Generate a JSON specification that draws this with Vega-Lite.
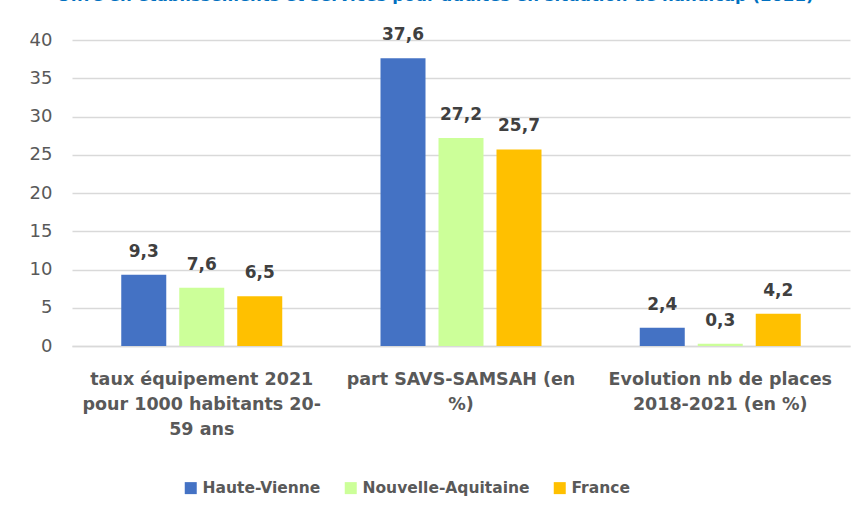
{
  "$schema": "https://vega.github.io/schema/vega-lite/v6.json",
  "width": 778,
  "height": 306,
  "autosize": {"type": "none"},
  "padding": {"left": 72, "top": 40, "right": 18, "bottom": 173},
  "background": "white",
  "title": {
    "text": "Offre en établissements et services pour adultes en situation de handicap (2021)",
    "color": "#0070C0",
    "font": "DejaVu Sans",
    "fontSize": 16.5,
    "fontWeight": "bold",
    "baseline": "alphabetic",
    "anchor": "middle",
    "offset": 9,
    "dx": -26
  },
  "data": {
    "values": [
      {"indicateur": "taux", "territoire": "Haute-Vienne", "valeur": 9.3},
      {"indicateur": "taux", "territoire": "Nouvelle-Aquitaine", "valeur": 7.6},
      {"indicateur": "taux", "territoire": "France", "valeur": 6.5},
      {"indicateur": "part", "territoire": "Haute-Vienne", "valeur": 37.6},
      {"indicateur": "part", "territoire": "Nouvelle-Aquitaine", "valeur": 27.2},
      {"indicateur": "part", "territoire": "France", "valeur": 25.7},
      {"indicateur": "evol", "territoire": "Haute-Vienne", "valeur": 2.4},
      {"indicateur": "evol", "territoire": "Nouvelle-Aquitaine", "valeur": 0.3},
      {"indicateur": "evol", "territoire": "France", "valeur": 4.2}
    ]
  },
  "encoding": {
    "x": {
      "field": "indicateur",
      "type": "nominal",
      "sort": null,
      "scale": {"paddingInner": 0.379, "paddingOuter": 0.19},
      "axis": {
        "title": null,
        "labelAngle": 0,
        "labelExpr": "datum.value == 'taux' ? ['taux équipement 2021', 'pour 1000 habitants 20-', '59 ans'] : datum.value == 'part' ? ['part SAVS-SAMSAH (en', '%)'] : ['Evolution nb de places', '2018-2021 (en %)']",
        "labelFont": "DejaVu Sans",
        "labelFontSize": 17.5,
        "labelFontWeight": "bold",
        "labelColor": "#595959",
        "labelLineHeight": 25,
        "labelPadding": 24,
        "labelLimit": 0,
        "ticks": false,
        "domainColor": "#d9d9d9",
        "domainWidth": 1.5
      }
    },
    "xOffset": {
      "field": "territoire",
      "type": "nominal",
      "sort": ["Haute-Vienne", "Nouvelle-Aquitaine", "France"],
      "scale": {"paddingInner": 0.224, "paddingOuter": 0}
    },
    "y": {
      "field": "valeur",
      "type": "quantitative",
      "scale": {"domain": [0, 40], "nice": false},
      "axis": {
        "title": null,
        "values": [0, 5, 10, 15, 20, 25, 30, 35, 40],
        "domain": false,
        "ticks": false,
        "labelFont": "DejaVu Sans",
        "labelFontSize": 18,
        "labelColor": "#595959",
        "labelPadding": 20,
        "gridColor": "#d9d9d9",
        "gridWidth": 1.5
      }
    }
  },
  "layer": [
    {
      "mark": {"type": "bar"},
      "encoding": {
        "color": {
          "field": "territoire",
          "type": "nominal",
          "scale": {
            "domain": ["Haute-Vienne", "Nouvelle-Aquitaine", "France"],
            "range": ["#4472C4", "#CCFF99", "#FFC000"]
          },
          "legend": {
            "title": null,
            "orient": "none",
            "legendX": 111,
            "legendY": 440,
            "direction": "horizontal",
            "symbolType": "square",
            "symbolSize": 144,
            "symbolStrokeWidth": 0,
            "labelFont": "DejaVu Sans",
            "labelFontSize": 15.5,
            "labelFontWeight": "bold",
            "labelColor": "#595959",
            "labelOffset": 4,
            "labelLimit": 0,
            "columnPadding": 22
          }
        }
      }
    },
    {
      "mark": {
        "type": "text",
        "baseline": "alphabetic",
        "dy": -18,
        "font": "DejaVu Sans",
        "fontSize": 17,
        "fontWeight": "bold",
        "color": "#404040"
      },
      "encoding": {
        "text": {"field": "valeur", "type": "quantitative", "format": ".1f"}
      }
    }
  ],
  "config": {
    "view": {"stroke": null},
    "locale": {
      "number": {
        "decimal": ",",
        "thousands": " ",
        "grouping": [3],
        "currency": ["", " €"]
      }
    }
  }
}
